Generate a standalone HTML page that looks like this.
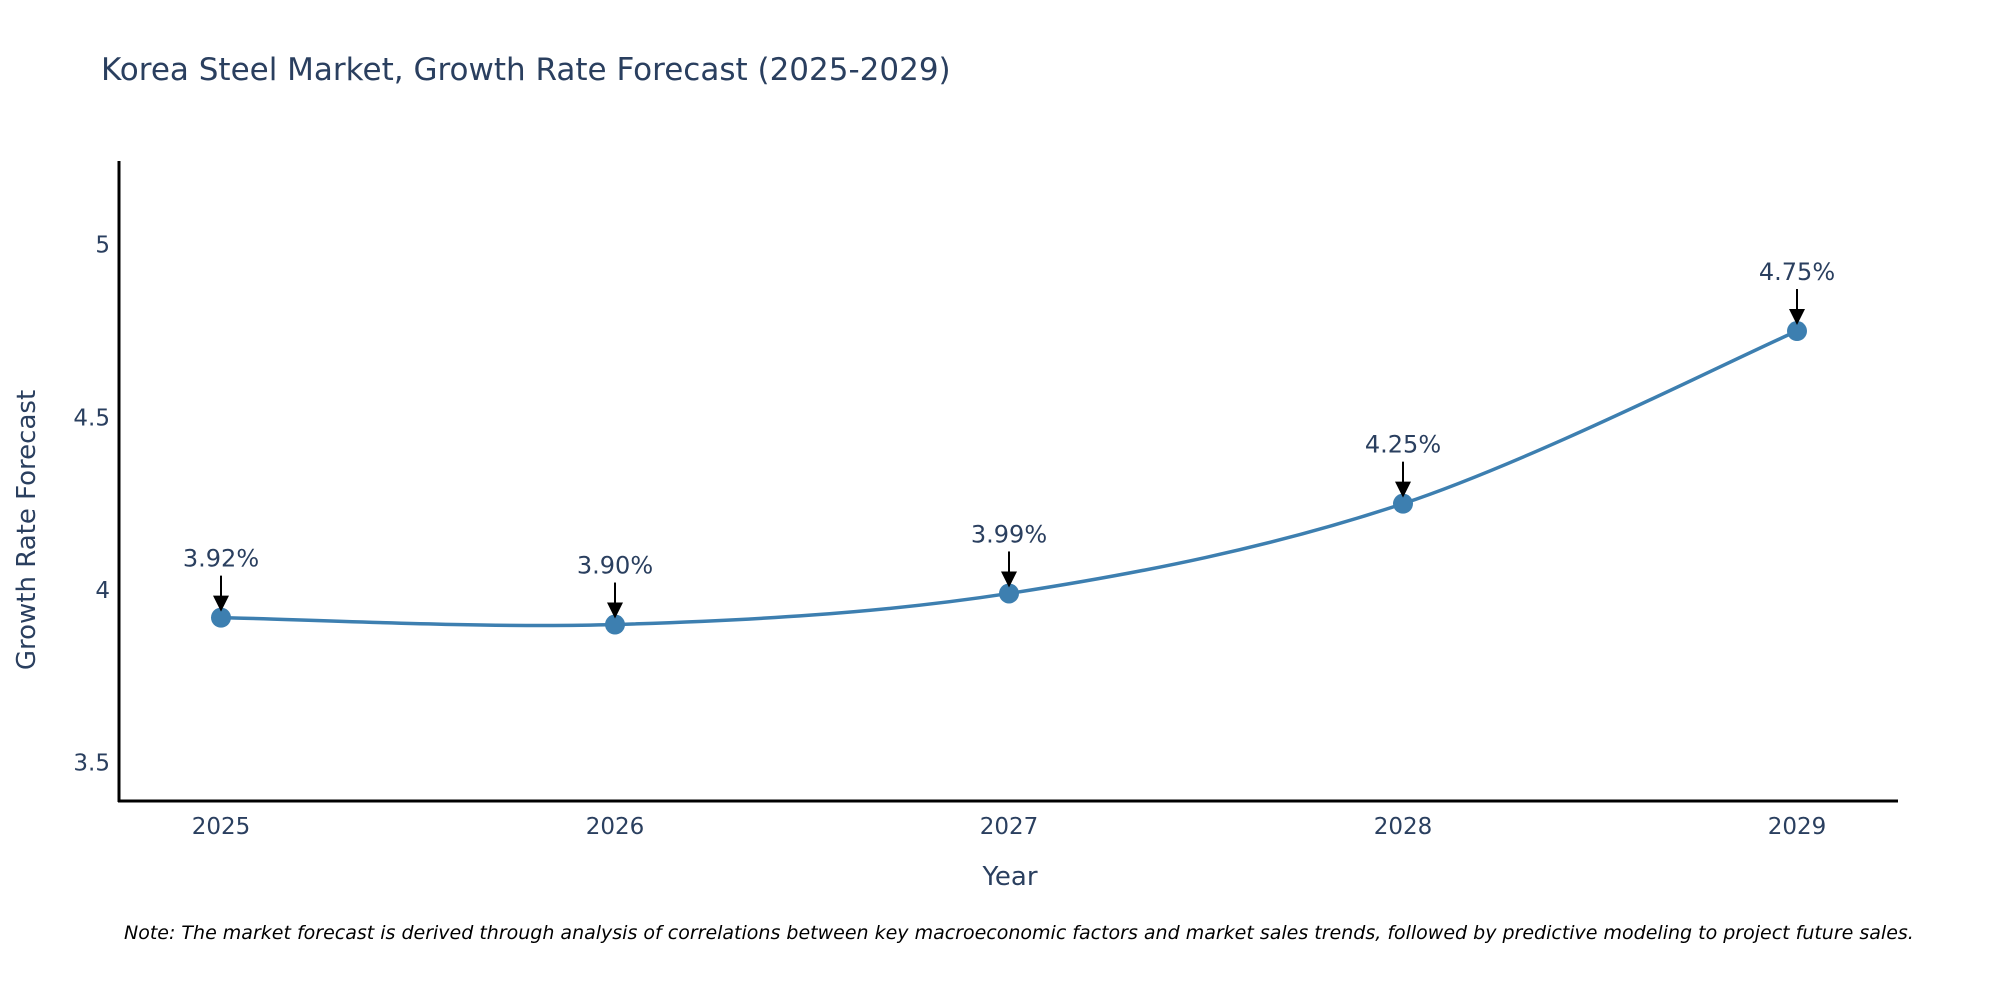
<!DOCTYPE html>
<html><head><meta charset="utf-8"><style>
body{margin:0;background:#fff;overflow:hidden;}
svg{display:block;font-family:"DejaVu Sans","Liberation Sans",sans-serif;}
</style></head><body>
<svg id="chart" width="2000" height="1000" viewBox="0 0 2000 1000">
<text x="101" y="80" font-size="31" fill="#2a3f5f">Korea Steel Market, Growth Rate Forecast (2025-2029)</text>
<g id="plot"></g>
<line x1="119" y1="161" x2="119" y2="802" stroke="#000" stroke-width="3"/>
<line x1="118" y1="801" x2="1898" y2="801" stroke="#000" stroke-width="3"/>
<text x="1010" y="885" font-size="26" fill="#2a3f5f" text-anchor="middle">Year</text>
<text transform="translate(35,530) rotate(-90)" font-size="26" fill="#2a3f5f" text-anchor="middle">Growth Rate Forecast</text>
<text x="124" y="939" font-size="19" font-style="italic" fill="#000">Note: The market forecast is derived through analysis of correlations between key macroeconomic factors and market sales trends, followed by predictive modeling to project future sales.</text>
</svg>
<script>
const years=[2025,2026,2027,2028,2029];
const values=[3.92,3.90,3.99,4.25,4.75];
const labels=["3.92%","3.90%","3.99%","4.25%","4.75%"];
const yTicks=[3.5,4,4.5,5];
const ns="http://www.w3.org/2000/svg";
const g=document.getElementById('plot');
const xS=v=>221+(v-2025)*394;
const yS=v=>590-(v-4)*345.3;
function mk(t,a){const e=document.createElementNS(ns,t);for(const k in a)e.setAttribute(k,a[k]);g.appendChild(e);return e;}
yTicks.forEach(v=>{const t=mk('text',{x:110,y:yS(v)+8,'font-size':23,fill:'#2a3f5f','text-anchor':'end'});


t.textContent=String(v);});
years.forEach(v=>{const t=mk('text',{x:xS(v),y:834,'font-size':23,fill:'#2a3f5f','text-anchor':'middle'});


t.textContent=String(v);});
const P=years.map((y,i)=>[xS(y),yS(values[i])]);
let d='M'+P[0][0]+','+P[0][1];
for(let i=0;i<P.length-1;i++){const p0=P[Math.max(0,i-1)],p1=P[i],p2=P[i+1],p3=P[Math.min(P.length-1,i+2)];const k=6;
d+=` C${p1[0]+(p2[0]-p0[0])/k},${p1[1]+(p2[1]-p0[1])/k} ${p2[0]-(p3[0]-p1[0])/k},${p2[1]-(p3[1]-p1[1])/k} ${p2[0]},${p2[1]}`;}
const line=mk('path',{d:d,fill:'none',stroke:'#3d7fb0','stroke-width':3.5});


P.forEach((p,i)=>{const c=mk('circle',{cx:p[0],cy:p[1],r:10,fill:'#3d7fb0'});


const a=mk('line',{x1:p[0],y1:p[1]-42,x2:p[0],y2:p[1]-20,stroke:'#000','stroke-width':2});


const h=mk('polygon',{points:`${p[0]-8},${p[1]-22} ${p[0]+8},${p[1]-22} ${p[0]},${p[1]-6}`,fill:'#000'});


const t=mk('text',{x:p[0],y:p[1]-51,'font-size':24,fill:'#2a3f5f','text-anchor':'middle'});


t.textContent=labels[i];});
</script>
</body></html>
